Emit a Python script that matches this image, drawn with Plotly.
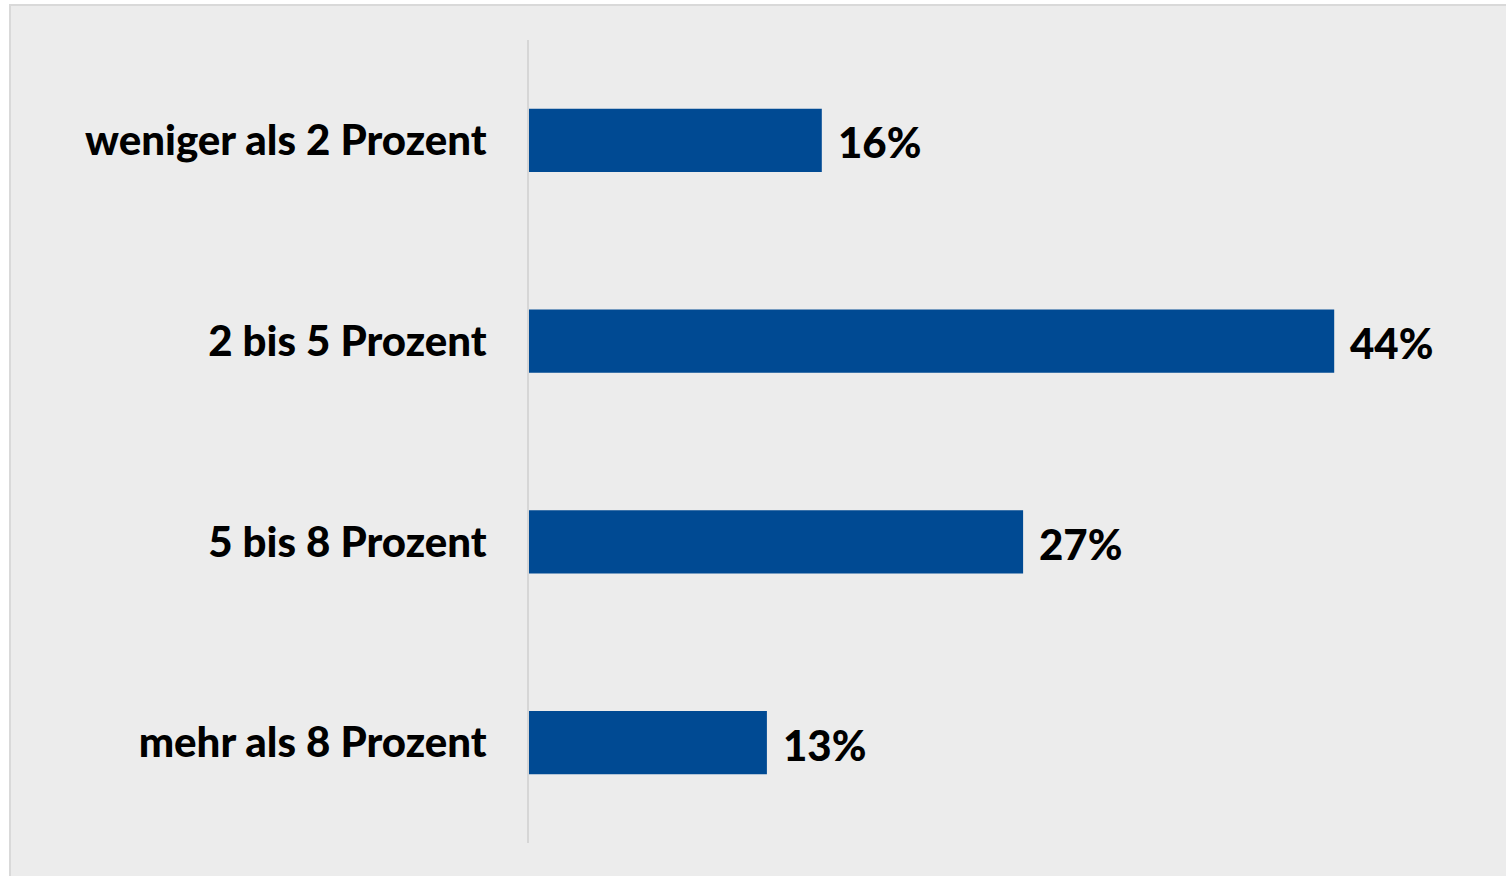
import plotly.graph_objects as go

categories = ["weniger als 2 Prozent", "2 bis 5 Prozent", "5 bis 8 Prozent", "mehr als 8 Prozent"]
values = [16, 44, 27, 13]
value_labels = ["16%", "44%", "27%", "13%"]

W, H = 1506, 876
ML, MR, MT, MB = 529, 60, 40, 33
pw = W - ML - MR
ph = H - MT - MB

BAR = "#004A93"
BG = "#ECECEC"
FONT = "Lato"
FS = 42
WT = 900

fig = go.Figure(go.Bar(
    x=values, y=categories, orientation="h",
    marker=dict(color=BAR, line=dict(width=0)),
    hoverinfo="skip",
))

for v, c, t in zip(values, categories, value_labels):
    fig.add_annotation(x=v, y=c, text=t, showarrow=False, xanchor="left",
                       xshift=14, yshift=-2,
                       font=dict(family=FONT, size=FS, color="#000000", weight=WT))

def px2x(p):
    return (p - ML) / pw
def py2y(p):
    return 1 - (p - MT) / ph

fig.add_shape(type="rect", xref="paper", yref="paper",
              x0=px2x(10), x1=px2x(W + 10), y0=py2y(H + 10), y1=py2y(5),
              fillcolor=BG, line=dict(color="#D9D9D9", width=2), layer="below")

fig.update_layout(
    width=W, height=H,
    margin=dict(l=ML, r=MR, t=MT, b=MB),
    paper_bgcolor="#FFFFFF",
    plot_bgcolor="rgba(0,0,0,0)",
    bargap=0.686,
    showlegend=False,
    font=dict(family=FONT, color="#000000"),
)
fig.update_xaxes(range=[0, pw / 18.3], visible=False, showgrid=False, zeroline=False)
fig.update_yaxes(autorange="reversed", showgrid=False, zeroline=False,
                 showline=True, linecolor="#D6D6D6", linewidth=2,
                 ticks="", ticklabelstandoff=32,
                 tickfont=dict(family=FONT, size=FS, color="#000000", weight=WT))

fig.write_html("out.html", config={"displayModeBar": False},
               post_script="document.body.style.margin='0';document.body.style.overflow='hidden';")
